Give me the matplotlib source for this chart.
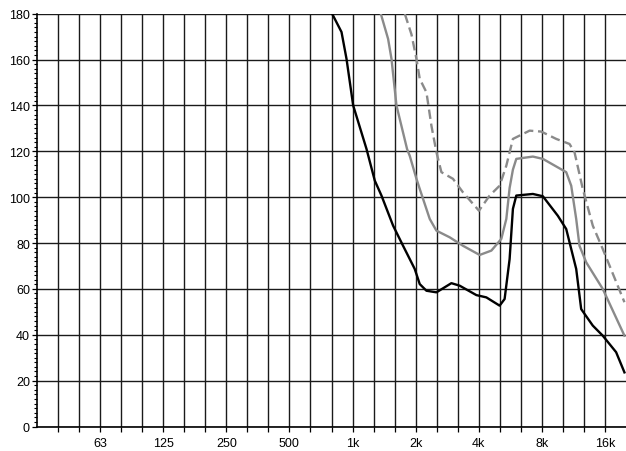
import matplotlib
matplotlib.use("Agg")
import matplotlib.pyplot as plt

plt.rcParams['font.family'] = ['Liberation Sans', 'DejaVu Sans']

# Tick labels (third-octave axis, labelled every octave)
tick_labels = ["63", "125", "250", "500", "1k", "2k", "4k", "8k", "16k"]
tick_steps = [-4, -3, -2, -1, 0, 1, 2, 3, 4]          # octaves relative to 1 kHz

# Black solid curve
black_f = [780, 799, 886, 936, 1007, 1166, 1277, 1374, 1561, 1742, 1980, 2092, 2252,
           2513, 2962, 3244, 3896, 4348, 5031, 5314, 5614, 5821, 6042, 7248, 8088,
           9533, 10455, 11044, 11666, 12323, 13995, 15616, 18087, 19815]
black_v = [186, 180, 172, 160.3, 140, 121, 107.2, 100.7, 87.6, 78.8, 68.7, 62.1, 59.2,
           58.5, 62.5, 61.4, 57.3, 56.3, 52.7, 55.6, 73, 94.9, 100.7, 101.4, 100.4,
           91.9, 86.1, 77.4, 68.7, 51.2, 44, 39.6, 32.4, 23.6]

# Grey solid curve
grey_f = [1330, 1364, 1478, 1534, 1620, 1820, 1875, 2018, 2092, 2335, 2513, 2907, 3364,
          4040, 4594, 5125, 5414, 5614, 5821, 6042, 7248, 8088, 10455, 11044, 11666,
          12095, 13019, 15616, 19815]
grey_v = [186, 180, 169, 160.3, 140, 121, 118, 108, 103.6, 90.5, 85.4, 82.5, 78.8,
          74.8, 76.7, 81.8, 90.5, 104, 112, 116.7, 117.7, 116.7, 110.9, 105, 90.5,
          78.8, 71.6, 60, 39.6]

# Grey dashed curve
dash_f = [1740, 1775, 1910, 2018, 2092, 2252, 2378, 2513, 2654, 3014, 3364, 4009, 4508,
          5031, 5414, 5821, 6990, 7947, 9368, 10840, 11451, 12541, 13995, 15616, 19815]
dash_v = [186, 180, 171, 160.3, 151.6, 145.7, 131.2, 119.6, 110.9, 108, 102.1, 94.1, 100.7,
          105, 113.7, 125.4, 129, 128.6, 125.4, 123.2, 119.6, 103.6, 87.6, 77.4, 54.2]

fig = plt.figure(figsize=(6.26, 4.52), dpi=100)
ax = fig.add_axes([37/626, 24.5/452, 589/626, 412.8/452])

ax.set_xscale('log')
ax.set_xlim(1000 * 2 ** (-5), 1000 * 2 ** (13 / 3))
ax.set_ylim(0, 180)

grey = '#8a8a8a'
ax.plot(dash_f, dash_v, color=grey, lw=1.7, dashes=(4.0, 2.0), zorder=3,
        dash_joinstyle='round')
ax.plot(grey_f, grey_v, color=grey, lw=1.7, zorder=3, solid_joinstyle='round')
ax.plot(black_f, black_v, color='black', lw=1.7, zorder=4, solid_joinstyle='round')

major = [1000 * 2 ** s for s in tick_steps]
minor = [1000 * 2 ** (k / 3) for k in range(-14, 13)]
ax.set_xticks(major)
ax.set_xticklabels(tick_labels)
ax.set_xticks(minor, minor=True)
ax.xaxis.set_minor_formatter(matplotlib.ticker.NullFormatter())

ax.set_yticks(range(0, 181, 20))
ax.set_yticks(range(0, 181, 2), minor=True)

ax.grid(True, which='both', axis='x', color='#1a1a1a', lw=1.0, zorder=1)
ax.grid(True, which='major', axis='y', color='#1a1a1a', lw=1.0, zorder=1)

ax.tick_params(axis='x', which='both', direction='out', length=3.6, width=0.9,
               labelsize=9, pad=4)
ax.tick_params(axis='y', which='major', direction='out', length=3.6, width=0.9,
               labelsize=9, pad=1.5)
ax.tick_params(axis='y', which='minor', direction='out', length=2, width=0.8)

for s in ['top', 'right']:
    ax.spines[s].set_visible(False)
for s in ['left', 'bottom']:
    ax.spines[s].set_linewidth(1.2)
    ax.spines[s].set_color('black')

fig.savefig('out.png', dpi=100)
